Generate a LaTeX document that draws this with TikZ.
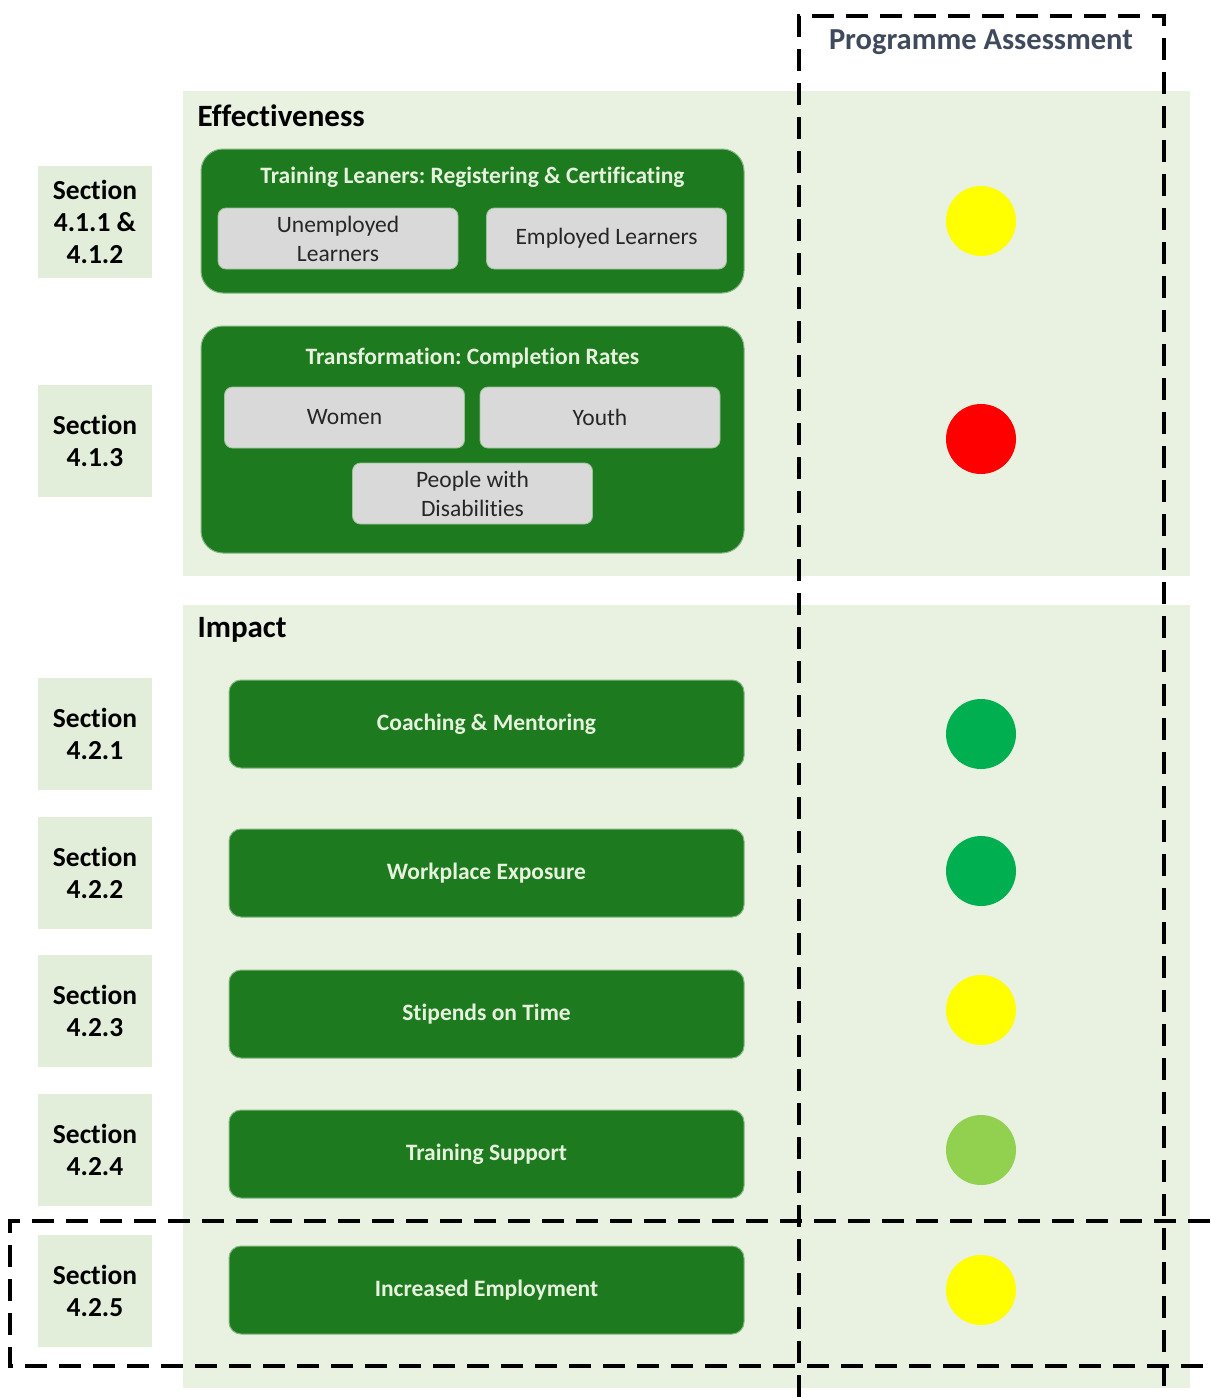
\documentclass[tikz,border=0pt]{standalone}
\usepackage{fontspec}
\setmainfont{Carlito}[Ligatures=NoCommon]
\frenchspacing
\definecolor{panelgreen}{HTML}{E9F1E1}
\definecolor{secgreen}{HTML}{E3EEDA}
\definecolor{boxgreen}{HTML}{1E7A1E}
\definecolor{titlegreen}{HTML}{E6F2DE}
\definecolor{itemgray}{HTML}{D9D9D9}
\definecolor{headslate}{HTML}{3F4A5C}
\definecolor{ratyellow}{HTML}{FFFF00}
\definecolor{ratred}{HTML}{FF0000}
\definecolor{ratgreen}{HTML}{00B050}
\definecolor{ratlime}{HTML}{92D050}
\usetikzlibrary{positioning}

\tikzset{
   secbox/.style={fill=secgreen, draw=white, line width=1.5pt, minimum width=116pt, minimum height=114pt,
      align=center, text=black, font=\fontsize{27.5}{32}\selectfont\bfseries},
   groupbox/.style={fill=boxgreen, draw=boxgreen!55!white, line width=1pt, rounded corners=22pt,
      minimum width=543pt, inner sep=0pt},
   grouptitle/.style={text=titlegreen, font=\fontsize{23.5}{28}\selectfont\bfseries},
   itembox/.style={fill=itemgray, draw=boxgreen!45!white, line width=0.8pt, rounded corners=8pt,
      minimum width=240pt, minimum height=61pt, align=center, text=black!85,
      font=\fontsize{23.5}{29}\selectfont},
   impactbox/.style={fill=boxgreen, draw=boxgreen!55!white, line width=1pt, rounded corners=12pt,
      minimum width=515pt, minimum height=88pt, text=titlegreen, font=\fontsize{23.5}{28}\selectfont\bfseries},
   rating/.style={circle, minimum size=70pt, inner sep=0pt, draw=none},
   panelhead/.style={anchor=west, text=black, font=\fontsize{31}{36}\selectfont\bfseries},
   assess/.style={draw=black, line width=3.2pt, dash pattern=on 22pt off 12pt}
}

\begin{document}
\begin{tikzpicture}[x=1pt, y=-1pt]
   \useasboundingbox[fill=white] (0,0) rectangle (1210,1397);
   % Panels
   \fill[panelgreen] (183,91) rectangle (1190,576);
   \fill[panelgreen] (183,605) rectangle (1190,1388);
   \node[panelhead] (effhead) at (194,116) {Effectiveness};
   \node[panelhead] (imphead) at (194,630) {Impact};
   % Section labels
   \node[secbox] (sec1) at (95,222) {Section\\4.1.1 \&\\4.1.2};
   \node[secbox] (sec2) at (95,441) {Section\\4.1.3};
   \node[secbox] (sec3) at (95,734) {Section\\4.2.1};
   \node[secbox] (sec4) at (95,873) {Section\\4.2.2};
   \node[secbox] (sec5) at (95,1011) {Section\\4.2.3};
   \node[secbox] (sec6) at (95,1150) {Section\\4.2.4};
   \node[secbox] (sec7) at (95,1291) {Section\\4.2.5};
   % Effectiveness groups
   \node[groupbox, minimum height=144pt] (train) at (472.5,221) {};
   \node[grouptitle] (traintitle) at (472.5,177) {Training Leaners: Registering \& Certificating};
   \node[itembox] (unemp) at (338,238.5) {Unemployed\\Learners};
   \node[itembox] (emp) at (606.5,238.5) {Employed Learners};
   \node[groupbox, minimum height=227pt] (transf) at (472.5,439.5) {};
   \node[grouptitle] (transftitle) at (472.5,358) {Transformation: Completion Rates};
   \node[itembox] (women) at (344.5,417.5) {Women};
   \node[itembox] (youth) at (600,417.5) {Youth};
   \node[itembox] (pwd) at (472.5,493.5) {People with\\Disabilities};
   % Impact items
   \node[impactbox] (coach) at (486.5,724) {Coaching \& Mentoring};
   \node[impactbox] (work) at (486.5,873) {Workplace Exposure};
   \node[impactbox] (stip) at (486.5,1014) {Stipends on Time};
   \node[impactbox] (tsup) at (486.5,1154) {Training Support};
   \node[impactbox] (incr) at (486.5,1290) {Increased Employment};
   % Ratings
   \node[rating, fill=ratyellow] (rtrain) at (981,221) {};
   \node[rating, fill=ratred] (rtransf) at (981,439) {};
   \node[rating, fill=ratgreen] (rcoach) at (981,734) {};
   \node[rating, fill=ratgreen] (rwork) at (981,871) {};
   \node[rating, fill=ratyellow] (rstip) at (981,1010) {};
   \node[rating, fill=ratlime] (rtsup) at (981,1150) {};
   \node[rating, fill=ratyellow] (rincr) at (981,1290) {};
   % Assessment column and highlighted row
   \draw[assess] (799,1397) -- (799,16) -- (1164,16) -- (1164,1397);
   \node[text=headslate, font=\fontsize{30.5}{35}\selectfont\bfseries] (assesshead) at (981,42) {Programme Assessment};
   \draw[assess] (1210,1221) -- (10,1221) -- (10,1366) -- (1210,1366);
\end{tikzpicture}
\end{document}
